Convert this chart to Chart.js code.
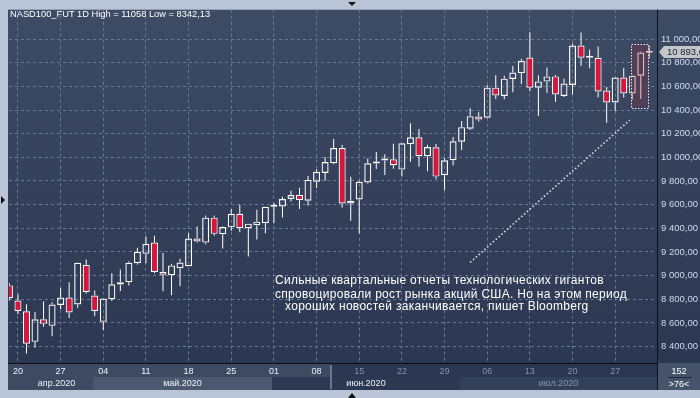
<!DOCTYPE html>
<html>
<head>
<meta charset="utf-8">
<script src="https://cdn.jsdelivr.net/npm/chart.js@4.4.0/dist/chart.umd.min.js"></script>
<style>
html, body { margin: 0; padding: 0; background: #b9c5d6; }
#wrap { position: relative; width: 700px; height: 398px; overflow: hidden; }
#c { position: absolute; left: 0; top: 0; }
.txt { position: absolute; color: #fff; font-family: "Liberation Sans", Arial, sans-serif; white-space: pre; line-height: 1; }
.note { font-size: 12px; letter-spacing: 0.3px; }
</style>
</head>
<body>
<div id="wrap">
  <canvas id="c" width="700" height="398"></canvas>
  <div class="txt" style="left:10px;top:10px;font-size:9.3px">NASD100_FUT 1D High = 11058 Low = 8342,13</div>
  <div class="txt note" style="left:275px;top:274px">Сильные квартальные отчеты технологических гигантов</div>
  <div class="txt note" style="left:275px;top:288px">спровоцировали рост рынка акций США. Но на этом период</div>
  <div class="txt note" style="left:285px;top:300px">хороших новостей заканчивается, пишет Bloomberg</div>
  <div class="txt" style="left:658px;top:367px;width:42px;text-align:center;font-size:9px">152</div>
  <div class="txt" style="left:658px;top:380px;width:42px;text-align:center;font-size:9px">&gt;76&lt;</div>
</div>
<script>
// daily bars, 17 apr .. 31 jul 2020 (index 0 = 17 apr)
const opens  = [8917,8789,8699,8440,8631,8575,8752,8814,8755,9092, 8831,8609,8800,8924,8945,9105,9184,9279,9033,9004,
                9063,9080,9313,9279,9490,9349,9408,9523,9400,9425, 9442,9582,9585,9647,9683,9633,9793,9868,9950,10079,
                9610,9644,9787,9947,9972,9984,9896,10110,10169,10009, 10085,9849,9975,10132,10241,10345,10334,10589,10519,10662,
                10712,10844,10589,10640,10684,10519,10611,10945,10842,10842, 10564,10463,10674,10539,10690,10884];
const highs  = [8935,8842,8758,8693,8783,8774,8892,8943,9111,9136, 8875,8806,9019,9052,9122,9235,9332,9336,9193,9100,
                9142,9358,9414,9507,9509,9414,9560,9599,9439,9557, 9585,9613,9666,9717,9742,9843,9899,10003,10154,10104,
                9835,9801,9989,10045,10026,10115,10121,10289,10239,10106, 10112,9997,10171,10306,10415,10382,10609,10693,10690,10771,
                10833,11058,10693,10760,10695,10665,10962,11055,10912,10937, 10594,10676,10752,10693,10895,10945];
const lows   = [8790,8673,8342,8390,8567,8488,8716,8642,8727,8848, 8657,8539,8785,8870,8917,9094,9105,9019,8867,8833,
                8909,9077,9279,9265,9336,9229,9380,9366,9162,9305, 9358,9442,9492,9627,9563,9591,9740,9801,9942,9576,
                9464,9358,9778,9902,9851,9904,9837,9963,9921,9883, 9815,9723,9930,10062,10230,10303,10331,10493,10491,10550,
                10620,10558,10350,10544,10468,10510,10533,10771,10754,10505, 10292,10390,10505,10488,10493,10838];
const closes = [8808,8701,8424,8631,8592,8755,8814,8688,9109,8861, 8701,8806,8926,8943,9109,9201,9268,9030,9008,9086,
                9111,9313,9288,9490,9353,9411,9523,9400,9439,9456, 9582,9593,9647,9681,9639,9809,9877,9961,10079,9610,
                9633,9793,9950,9961,9986,9933,10118,10169,10009,10087, 9837,9975,10135,10255,10348,10320,10589,10522,10665,10716,
                10817,10589,10642,10684,10531,10623,10945,10842,10847,10556, 10463,10674,10539,10690,10886,10893.6];

const weekIdx    = [1, 6, 11, 16, 21, 26, 31, 36, 41, 46, 51, 56, 61, 66, 71];
const weekLabels = ['20','27','04','11','18','25','01','08','15','22','29','06','13','20','27'];
const monthNames = ['апр.2020','май.2020','июн.2020','июл.2020'];
const monthStart = [-12, 10, 31, 53];
const priceTicks = [8400, 8600, 8800, 9000, 9200, 9400, 9600, 9800, 10000, 10200, 10400, 10600, 10800, 11000];

const trendX = [54, 72.7];
const trendY = [9111, 10314];
const selX = [72.87, 74.9];
const selY = [10421, 10960];
const lastPrice = 10893.6;

const UP_FILL = 'rgba(0,0,0,0)', DOWN_FILL = '#dc143c';
const dim = '#8593ab', bright = '#eef2f8';
const activeEdge = 37.6;   // day labels right of this are greyed out

const idx = opens.map((_, i) => i);
const edge = i => i >= 73 ? '#f3c6c6' : '#ffffff';

const fmt = v => {
  const s = v.toFixed(2).split('.');
  return s[0].replace(/\B(?=(\d{3})+(?!\d))/g, ' ') + ',' + s[1];
};

const frame = {
  id: 'frame',
  beforeDraw(chart) {
    const {ctx, chartArea: a, width, height} = chart;
    const xs = chart.scales.x;
    ctx.save();
    ctx.fillStyle = '#b9c5d6';
    ctx.fillRect(0, 0, width, height);
    const g = ctx.createLinearGradient(0, a.top, 0, a.bottom);
    g.addColorStop(0, '#3e4b65');
    g.addColorStop(1, '#2c3751');
    ctx.fillStyle = g;
    ctx.fillRect(a.left - 1, a.top, width - a.left + 1, a.bottom - a.top);
    // day row
    const split = Math.round(xs.getPixelForValue(activeEdge));
    ctx.fillStyle = '#3d4a62';
    ctx.fillRect(a.left - 1, a.bottom, split - a.left + 1, 14);
    ctx.fillStyle = '#2b3650';
    ctx.fillRect(split, a.bottom, a.right - split, 14);
    // month bands
    const bandCol = ['#3d4a62', '#4b5870', '#2d3952', '#33405a'];
    ctx.font = '9px "Liberation Sans", Arial, sans-serif';
    ctx.textAlign = 'center';
    ctx.textBaseline = 'middle';
    for (let m = 0; m < monthNames.length; m++) {
      const x0 = Math.max(a.left - 1, Math.round(xs.getPixelForValue(monthStart[m] - 0.2)));
      const x1 = m + 1 < monthNames.length ? Math.round(xs.getPixelForValue(monthStart[m + 1] - 0.2)) : a.right;
      ctx.fillStyle = bandCol[m];
      ctx.fillRect(x0, a.bottom + 14, x1 - x0, 13);
      ctx.fillStyle = x0 > split ? dim : bright;
      ctx.fillText(monthNames[m], (x0 + x1) / 2 + (m === 0 ? 6 : 0), a.bottom + 20.5);
    }
    ctx.fillStyle = '#6b7790';
    ctx.fillRect(split, a.bottom + 2, 2, 24);
    // corner box
    ctx.fillStyle = '#46546b';
    ctx.fillRect(a.right, a.bottom, width - a.right, 27);
    ctx.restore();
  },
  beforeDatasetsDraw(chart) {
    const {ctx} = chart;
    const xs = chart.scales.x, ys = chart.scales.y;
    const x0 = xs.getPixelForValue(selX[0]), x1 = xs.getPixelForValue(selX[1]);
    const y0 = ys.getPixelForValue(selY[1]), y1 = ys.getPixelForValue(selY[0]);
    ctx.save();
    ctx.fillStyle = 'rgba(88,62,84,0.75)';
    ctx.fillRect(x0, y0, x1 - x0, y1 - y0);
    ctx.strokeStyle = '#e8e8ec';
    ctx.lineWidth = 1;
    ctx.setLineDash([1.5, 1.5]);
    ctx.strokeRect(Math.round(x0) + 0.5, Math.round(y0) + 0.5, Math.round(x1 - x0), Math.round(y1 - y0));
    ctx.restore();
  },
  afterDraw(chart) {
    const {ctx, chartArea: a, width} = chart;
    const ys = chart.scales.y;
    ctx.save();
    ctx.fillStyle = '#0c1018';
    ctx.fillRect(a.left - 1, a.bottom, a.right - a.left + 1, 1);
    ctx.fillRect(a.right, a.top, 1, a.bottom - a.top + 27);
    ctx.fillStyle = '#1e2636';
    ctx.fillRect(668, a.bottom + 14, 24, 1);
    // last price tag
    const py = Math.round(ys.getPixelForValue(lastPrice));
    ctx.fillStyle = '#c4c6cc';
    ctx.beginPath();
    ctx.moveTo(a.right + 2, py);
    ctx.lineTo(a.right + 7, py - 6);
    ctx.lineTo(width, py - 6);
    ctx.lineTo(width, py + 6);
    ctx.lineTo(a.right + 7, py + 6);
    ctx.closePath();
    ctx.fill();
    ctx.fillStyle = '#1a2030';
    ctx.font = '9.5px "Liberation Sans", Arial, sans-serif';
    ctx.textBaseline = 'middle';
    ctx.textAlign = 'left';
    ctx.fillText(fmt(lastPrice).slice(0, -1), a.right + 10, py + 0.5);
    // scroll arrows
    ctx.fillStyle = '#111';
    ctx.beginPath(); ctx.moveTo(348, 2); ctx.lineTo(356, 2); ctx.lineTo(352, 6); ctx.fill();
    ctx.beginPath(); ctx.moveTo(348, 398); ctx.lineTo(356, 398); ctx.lineTo(352, 393); ctx.fill();
    ctx.beginPath(); ctx.moveTo(1, 196); ctx.lineTo(5, 200); ctx.lineTo(1, 204); ctx.fill();
    ctx.restore();
  }
};

const gridStyle = { color: '#68789a', lineWidth: 1, drawTicks: false, offset: false };
const borderStyle = { display: false, dash: [3, 3] };

new Chart(document.getElementById('c'), {
  type: 'bar',
  data: {
    datasets: [
      {
        label: 'upper wick',
        data: idx.map(i => ({x: i, y: [Math.max(opens[i], closes[i]), highs[i]]})),
        backgroundColor: idx.map(edge),
        borderWidth: 0, barThickness: 1, grouped: false, order: 2, inflateAmount: 0
      },
      {
        label: 'lower wick',
        data: idx.map(i => ({x: i, y: [lows[i], Math.min(opens[i], closes[i])]})),
        backgroundColor: idx.map(edge),
        borderWidth: 0, barThickness: 1, grouped: false, order: 2, inflateAmount: 0
      },
      {
        label: 'body',
        data: idx.map(i => ({x: i, y: [opens[i], closes[i]]})),
        backgroundColor: idx.map(i => closes[i] < opens[i] ? DOWN_FILL : UP_FILL),
        borderColor: idx.map(edge),
        borderWidth: 1.2, borderSkipped: false, barThickness: 7, minBarLength: 2,
        grouped: false, order: 1, inflateAmount: 0
      },
      {
        type: 'line',
        label: 'trend',
        data: trendX.map((x, i) => ({x: x, y: trendY[i]})),
        borderColor: '#dcdce4', borderWidth: 1.6, borderDash: [1.6, 2.2],
        pointRadius: 0, order: 0
      }
    ]
  },
  options: {
    responsive: false,
    animation: false,
    devicePixelRatio: 1,
    layout: { padding: { left: 9, top: 8, right: 0, bottom: 8 } },
    plugins: { legend: { display: false }, tooltip: { enabled: false } },
    scales: {
      x: {
        type: 'linear',
        offset: false,
        min: -0.05,
        max: 75.9,
        grid: gridStyle,
        border: borderStyle,
        afterBuildTicks: s => { s.ticks = weekIdx.map(v => ({value: v})); },
        afterFit: s => { s.height = 27; },
        ticks: {
          autoSkip: false,
          maxRotation: 0,
          padding: 3,
          font: { family: '"Liberation Sans", Arial, sans-serif', size: 9 },
          color: c => (c.tick && c.tick.value > activeEdge) ? dim : bright,
          callback: (v, i) => weekLabels[i]
        }
      },
      y: {
        position: 'right',
        min: 8261,
        max: 11248,
        grid: gridStyle,
        border: borderStyle,
        afterBuildTicks: s => { s.ticks = priceTicks.map(v => ({value: v})); },
        afterFit: s => { s.width = 43; },
        ticks: {
          padding: 4,
          font: { family: '"Liberation Sans", Arial, sans-serif', size: 9.5 },
          color: '#cfdbef',
          callback: v => fmt(v)
        }
      }
    }
  },
  plugins: [frame]
});
</script>
</body>
</html>
